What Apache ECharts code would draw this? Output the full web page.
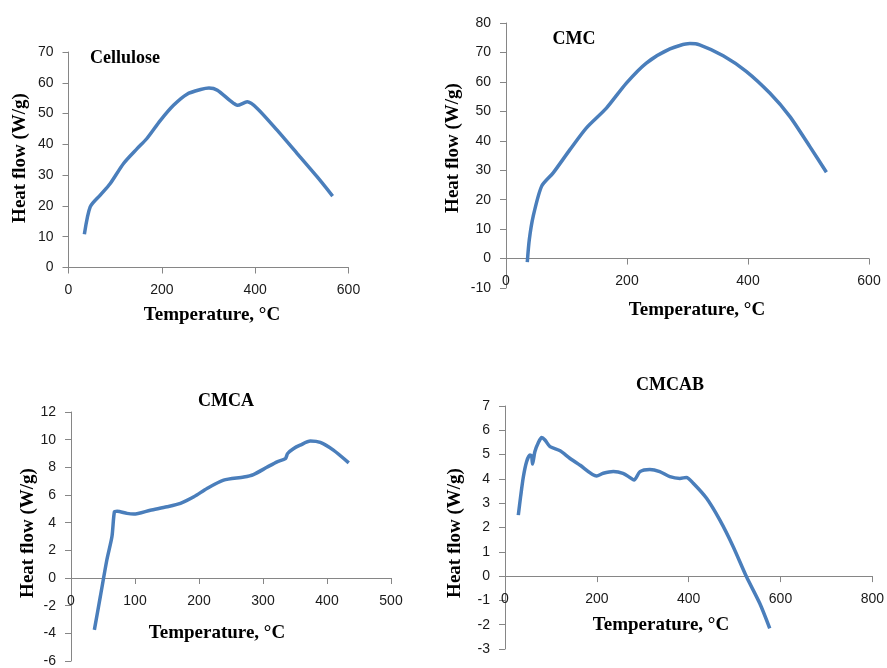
<!DOCTYPE html>
<html><head><meta charset="utf-8">
<script src="https://cdn.jsdelivr.net/npm/echarts@6/dist/echarts.min.js"></script>
<style>html,body{margin:0;padding:0;background:#fff}#c{width:887px;height:668px}</style>
</head><body><div id="c"></div>
<script>
// Cellulose
const cellT  = [34, 46.5, 68, 89.5, 118, 147, 168, 197, 225, 254, 283, 301, 319, 347, 362, 383, 405, 447, 490, 533, 566];
const cellHF = [10.8, 19.7, 23.5, 27.3, 33.8, 38.6, 41.9, 47.8, 52.7, 56.3, 57.8, 58.3, 57.6, 54.1, 52.7, 53.8, 51.6, 44.6, 37, 29.4, 23.2];
// CMC
const cmcT  = [35.2, 38.5, 45, 59, 78, 105.7, 133, 166, 199, 232, 271, 304, 320, 359, 397, 436, 469, 502, 529.6];
const cmcHF = [-1.2, 6.4, 14.4, 24.6, 29.1, 37, 44.4, 51.1, 59.6, 66.4, 71.2, 73, 72.6, 68.9, 63.6, 56.2, 48.3, 38.1, 29.3];
// CMCA
const cmcaT  = [36.5, 45.8, 56, 64, 68, 72, 87.5, 98, 124, 150, 171, 192, 212.5, 238.5, 270, 285, 306, 322, 335, 338.5, 348, 358, 374, 389.5, 410, 434];
const cmcaHF = [-3.75, -1.35, 1.3, 3, 4.8, 4.83, 4.67, 4.62, 4.9, 5.15, 5.4, 5.87, 6.47, 7.07, 7.3, 7.48, 8, 8.4, 8.63, 9, 9.36, 9.6, 9.9, 9.8, 9.24, 8.32];
// CMCAB
const cmcabT  = [29, 34, 40, 47, 54.4, 58, 60, 65, 72.5, 80, 87, 98, 120, 141, 163, 199.5, 214, 236, 257, 272, 281, 294, 315.5, 337, 359, 381, 395, 410, 439, 468, 497, 526, 555, 576.6];
const cmcabHF = [2.51, 3.27, 4.09, 4.71, 4.98, 4.94, 4.61, 5.12, 5.49, 5.7, 5.6, 5.33, 5.16, 4.85, 4.57, 4.12, 4.23, 4.3, 4.23, 4.06, 3.95, 4.3, 4.39, 4.3, 4.09, 4.02, 4.06, 3.82, 3.2, 2.3, 1.21, -0.03, -1.13, -2.15];

const titles = ['Cellulose', 'CMC', 'CMCA', 'CMCAB'];
const xTitle = 'Temperature, \u00B0C';
const yTitle = 'Heat flow (W/g)';

const xRanges = [[0, 600, 200], [0, 600, 200], [0, 500, 100], [0, 800, 200]];
const yRanges = [[0, 70, 10], [-10, 80, 10], [-6, 12, 2], [-3, 7, 1]];

const grids = [
  {left: 68.5, top: 52, width: 280, height: 215.5},
  {left: 506, top: 23, width: 363, height: 265},
  {left: 71, top: 412, width: 320, height: 249},
  {left: 505, top: 406, width: 368, height: 243}
];
const seriesData = [[cellT, cellHF], [cmcT, cmcHF], [cmcaT, cmcaHF], [cmcabT, cmcabHF]];

const axisColor = '#868686';
const labelFont = {fontFamily: 'Liberation Sans', fontSize: 14, color: '#1a1a1a'};
const serif = 'Liberation Serif';

const xAxes = [], yAxes = [], series = [];
for (let i = 0; i < 4; i++) {
  const [ymin, ymax] = yRanges[i];
  // the horizontal axis crosses the vertical axis at zero: shift it up from the grid bottom
  const zeroOffset = -grids[i].height * (0 - ymin) / (ymax - ymin);
  xAxes.push({
    type: 'value', gridIndex: i, min: xRanges[i][0], max: xRanges[i][1], interval: xRanges[i][2],
    position: 'bottom', offset: zeroOffset,
    splitLine: {show: false},
    axisLine: {show: true, onZero: false, lineStyle: {color: axisColor, width: 1}},
    axisTick: {show: true, inside: false, length: 6, lineStyle: {color: axisColor}},
    axisLabel: Object.assign({margin: 16}, labelFont)
  });
  yAxes.push({
    type: 'value', gridIndex: i, min: ymin, max: ymax, interval: yRanges[i][2],
    splitLine: {show: false},
    axisLine: {show: true, onZero: false, lineStyle: {color: axisColor, width: 1}},
    axisTick: {show: true, inside: false, length: 6, lineStyle: {color: axisColor}},
    axisLabel: Object.assign({margin: 15}, labelFont)
  });
  const [xs, ys] = seriesData[i];
  series.push({
    type: 'line', xAxisIndex: i, yAxisIndex: i,
    data: xs.map((x, k) => [x, ys[k]]),
    showSymbol: false, smooth: 0.25,
    lineStyle: {color: '#4a7ebb', width: 3.5},
    itemStyle: {color: '#4a7ebb'}
  });
}

const xTitlePos = [[212, 315], [697, 310], [217, 633], [661, 625]];
const yTitlePos = [[20, 158], [453, 148], [28, 533], [455, 533]];
const titlePos = [[125, 58], [574, 39], [226, 401], [670, 385]];

const graphic = [];
for (let i = 0; i < 4; i++) {
  graphic.push({type: 'text', x: xTitlePos[i][0], y: xTitlePos[i][1],
    style: {text: xTitle, font: 'bold 19px "' + serif + '"', fill: '#000', textAlign: 'center', textVerticalAlign: 'middle'}});
  graphic.push({type: 'text', x: yTitlePos[i][0], y: yTitlePos[i][1], rotation: Math.PI / 2,
    style: {text: yTitle, font: 'bold 19px "' + serif + '"', fill: '#000', textAlign: 'center', textVerticalAlign: 'middle'}});
  graphic.push({type: 'text', x: titlePos[i][0], y: titlePos[i][1],
    style: {text: titles[i], font: 'bold 18px "' + serif + '"', fill: '#000', textAlign: 'center', textVerticalAlign: 'middle'}});
}

const chart = echarts.init(document.getElementById('c'));
chart.setOption({
  animation: false,
  backgroundColor: '#fff',
  grid: grids,
  xAxis: xAxes,
  yAxis: yAxes,
  series: series,
  graphic: graphic
});
</script></body></html>
